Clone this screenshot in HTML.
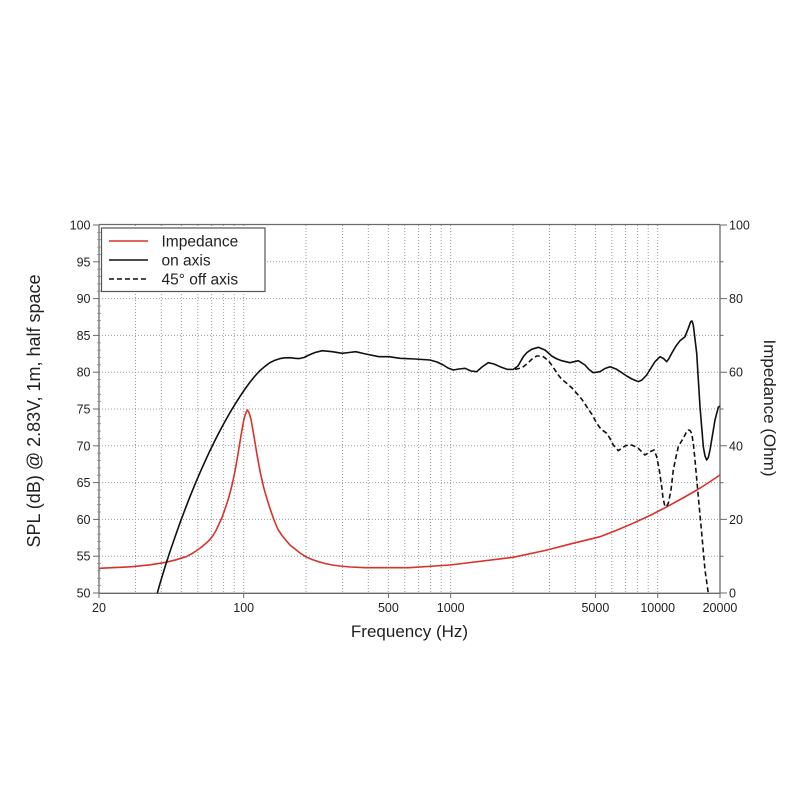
<!DOCTYPE html>
<html><head><meta charset="utf-8"><style>
html,body{margin:0;padding:0;background:#fff;}
svg{display:block;}
text{font-family:"Liberation Sans",Arial,sans-serif;fill:#222;}
</style></head><body>
<svg width="800" height="800" viewBox="0 0 800 800" xmlns="http://www.w3.org/2000/svg">
<rect width="800" height="800" fill="#fff"/>
<!-- vertical grid -->
<g stroke="#9a9a9a" stroke-width="1" stroke-dasharray="1 2" fill="none">
<line x1="135.5" y1="225" x2="135.5" y2="593"/>
<line x1="161.3" y1="225" x2="161.3" y2="593"/>
<line x1="181.4" y1="225" x2="181.4" y2="593"/>
<line x1="197.8" y1="225" x2="197.8" y2="593"/>
<line x1="211.6" y1="225" x2="211.6" y2="593"/>
<line x1="223.6" y1="225" x2="223.6" y2="593"/>
<line x1="234.2" y1="225" x2="234.2" y2="593"/>
<line x1="243.7" y1="225" x2="243.7" y2="593"/>
<line x1="306" y1="225" x2="306" y2="593"/>
<line x1="342.5" y1="225" x2="342.5" y2="593"/>
<line x1="368.3" y1="225" x2="368.3" y2="593"/>
<line x1="388.4" y1="225" x2="388.4" y2="593"/>
<line x1="404.8" y1="225" x2="404.8" y2="593"/>
<line x1="418.6" y1="225" x2="418.6" y2="593"/>
<line x1="430.6" y1="225" x2="430.6" y2="593"/>
<line x1="441.2" y1="225" x2="441.2" y2="593"/>
<line x1="450.7" y1="225" x2="450.7" y2="593"/>
<line x1="513" y1="225" x2="513" y2="593"/>
<line x1="549.5" y1="225" x2="549.5" y2="593"/>
<line x1="575.3" y1="225" x2="575.3" y2="593"/>
<line x1="595.4" y1="225" x2="595.4" y2="593"/>
<line x1="611.8" y1="225" x2="611.8" y2="593"/>
<line x1="625.6" y1="225" x2="625.6" y2="593"/>
<line x1="637.6" y1="225" x2="637.6" y2="593"/>
<line x1="648.2" y1="225" x2="648.2" y2="593"/>
<line x1="657.7" y1="225" x2="657.7" y2="593"/>
</g>
<!-- horizontal grid -->
<g stroke="#9a9a9a" stroke-width="1" stroke-dasharray="1 2" fill="none">
<line x1="99" y1="556.2" x2="720" y2="556.2"/>
<line x1="99" y1="519.4" x2="720" y2="519.4"/>
<line x1="99" y1="482.6" x2="720" y2="482.6"/>
<line x1="99" y1="445.8" x2="720" y2="445.8"/>
<line x1="99" y1="409" x2="720" y2="409"/>
<line x1="99" y1="372.2" x2="720" y2="372.2"/>
<line x1="99" y1="335.4" x2="720" y2="335.4"/>
<line x1="99" y1="298.6" x2="720" y2="298.6"/>
<line x1="99" y1="261.8" x2="720" y2="261.8"/>
</g>
<!-- axes frame -->
<g stroke="#6a6a6a" stroke-width="1.3" fill="none">
<line x1="99" y1="224.5" x2="720" y2="224.5"/>
<line x1="99" y1="224.5" x2="99" y2="593.3"/>
<line x1="720" y1="224.5" x2="720" y2="593.3"/>
<line x1="99" y1="593.3" x2="720" y2="593.3"/>
</g>
<!-- left ticks -->
<g stroke="#6a6a6a" stroke-width="1">
<line x1="93" y1="593" x2="99" y2="593"/><line x1="93" y1="556.2" x2="99" y2="556.2"/><line x1="93" y1="519.4" x2="99" y2="519.4"/><line x1="93" y1="482.6" x2="99" y2="482.6"/><line x1="93" y1="445.8" x2="99" y2="445.8"/><line x1="93" y1="409" x2="99" y2="409"/><line x1="93" y1="372.2" x2="99" y2="372.2"/><line x1="93" y1="335.4" x2="99" y2="335.4"/><line x1="93" y1="298.6" x2="99" y2="298.6"/><line x1="93" y1="261.8" x2="99" y2="261.8"/><line x1="93" y1="225" x2="99" y2="225"/>
</g>
<path stroke="#8a8a8a" stroke-width="0.8" d="M97 585.6h4M97 578.3h4M97 570.9h4M97 563.6h4M97 548.8h4M97 541.5h4M97 534.1h4M97 526.8h4M97 512h4M97 504.7h4M97 497.3h4M97 490h4M97 475.2h4M97 467.9h4M97 460.5h4M97 453.2h4M97 438.4h4M97 431.1h4M97 423.7h4M97 416.4h4M97 401.6h4M97 394.3h4M97 386.9h4M97 379.6h4M97 364.8h4M97 357.5h4M97 350.1h4M97 342.8h4M97 328h4M97 320.7h4M97 313.3h4M97 306h4M97 291.2h4M97 283.9h4M97 276.5h4M97 269.2h4M97 254.4h4M97 247.1h4M97 239.7h4M97 232.4h4"/>
<!-- right ticks -->
<path stroke="#6a6a6a" stroke-width="1" d="M720 593h7M720 519.4h7M720 445.8h7M720 372.2h7M720 298.6h7M720 225h7M720 556.2h3.5M720 482.6h3.5M720 409h3.5M720 335.4h3.5M720 261.8h3.5"/>
<!-- bottom ticks -->
<path stroke="#6a6a6a" stroke-width="1" d="M99 593v5M243.7 593v5M388.4 593v5M450.7 593v5M595.4 593v5M657.7 593v5M720 593v5"/>

<!-- curves -->
<polyline fill="none" stroke="#d8322a" stroke-width="1.6" stroke-linejoin="round" points="99,568.3 132,566.7 150,564.8 166,562.3 176,559.8 186,556.7 191,554.2 196,551 201,547.5 206,543.3 210,539.5 213,535.5 216,530.5 219,524 222,517.5 225,509 228,500 230,493 232.5,483 235,471 238,454 241,435.5 244,418.7 246,412.5 247.5,410 249,412.5 251,419.3 254,436.4 257,454.7 260,471.2 264,488.7 267,499 270,508.5 274,520 278,529.5 282,535.5 285.7,540 290,545 295,549 300,553 305.7,556.7 312,559.5 318,561.5 325,563.5 332.3,565 340,566 350,567 365.7,567.7 409,567.7 450,565 513,557.3 545,550.5 573,543.3 600,536.7 616,530.5 633,523.3 650,515.5 667,506.7 682,498.5 697,490 708,483 720,475"/>

<polyline fill="none" stroke="#111" stroke-width="1.6" stroke-linejoin="round" points="157.3,593 160,583.5 165,567 170,551.5 175,537 180,522.8 185,509.5 190,496.6 195,484.3 200,472.6 205,461.4 210,450.6 215,440.4 220,430.6 225,421.4 230,412.6 235,404.3 240,396.4 245,389 250,382.1 255,376 260,370.6 265,366.3 270,362.6 275,360.2 280,358.6 285,357.8 290,357.7 295,358.3 299,358.6 304,357.5 309,355 315,352.5 322.3,350.7 332.3,351.7 342.3,353.3 349,352.5 355.7,351.7 365.7,354 379,356.7 389,356.7 400,358.3 415,359 430,360 437,362 443.3,365 448,368 453.3,370 459,369 465,368.3 471,371 476.7,371.7 482,367 488.3,362.7 494,364 500,366.7 507,369.3 513,369.5 518,366 523.3,356.7 527,352.5 531.7,349.3 538.3,347.3 545,350 551.7,356 556,358.5 561.7,360.7 570,362.7 578.3,360.7 585,365 589,369.5 593.3,372.7 600,371.7 605,368.5 610,366.7 616.7,369.3 626.7,376 632,379 638.3,381.7 642,380 646.7,375 651,368 655,361.7 660,356.7 663.5,358.5 666.7,361.7 669,358.5 671.7,353.3 676,346 680,340.7 685,336.7 688.3,328.3 690.7,321.7 692,321 693.3,325 696.7,353.3 700,406.7 703.3,446.7 705,456 706.7,460 708.3,457.5 710,450 712.5,435 715,420 718.3,407.3 720,406"/>

<polyline fill="none" stroke="#111" stroke-width="1.6" stroke-dasharray="5 3" stroke-linejoin="round" points="515,369.3 519,368.5 523.3,366.7 527.5,363.5 531.7,359.3 536.7,356 540,356 543.3,356.7 547,359.5 550,362.7 554,368.5 558.3,375 562,379.5 566.7,383.3 572,388 576.7,393.3 582,399.5 586.7,406.7 592,414.5 596.7,423.3 601,429 606.7,433.3 610,438.5 613.3,445 618.3,450.7 622,448 625,446 628,445 631.7,445 635,446.5 638.3,448.3 642,452 645,455 648,453 650,451.7 654,450 656.7,456.7 659.3,470 661.7,486.7 663,498 665,506.7 666.7,506 668.3,503.3 671,490 673.3,470 676,457 678.3,446.7 681,442 683.3,438.3 686,433 688.3,430 690,430.5 691.7,433.3 693.5,445 695,460 698.3,496.7 701.7,533.3 705,570 708.3,593.3"/>

<!-- legend -->
<rect x="101.5" y="228" width="163.5" height="63.5" fill="#fff" stroke="#555" stroke-width="1.2"/>
<line x1="109" y1="241" x2="148" y2="241" stroke="#d8322a" stroke-width="1.6"/>
<line x1="109" y1="260" x2="148" y2="260" stroke="#111" stroke-width="1.6"/>
<line x1="109" y1="279" x2="148" y2="279" stroke="#111" stroke-width="1.6" stroke-dasharray="5 3"/>
<text x="161.5" y="246.5" font-size="15.5">Impedance</text>
<text x="161.5" y="265.5" font-size="15.5">on axis</text>
<text x="161.5" y="284.5" font-size="15.5">45° off axis</text>

<!-- left tick labels -->
<g font-size="12.5" text-anchor="end">
<text x="90.5" y="597.5">50</text>
<text x="90.5" y="560.7">55</text>
<text x="90.5" y="523.9">60</text>
<text x="90.5" y="487.1">65</text>
<text x="90.5" y="450.3">70</text>
<text x="90.5" y="413.5">75</text>
<text x="90.5" y="376.7">80</text>
<text x="90.5" y="339.9">85</text>
<text x="90.5" y="303.1">90</text>
<text x="90.5" y="266.3">95</text>
<text x="90.5" y="229.5">100</text>
</g>
<!-- right tick labels -->
<g font-size="12.5" text-anchor="start">
<text x="729" y="597.5">0</text>
<text x="729" y="523.9">20</text>
<text x="729" y="450.3">40</text>
<text x="729" y="376.7">60</text>
<text x="729" y="303.1">80</text>
<text x="729" y="229.5">100</text>
</g>
<!-- bottom tick labels -->
<g font-size="12.5" text-anchor="middle">
<text x="99" y="612">20</text>
<text x="243.7" y="612">100</text>
<text x="388.4" y="612">500</text>
<text x="450.7" y="612">1000</text>
<text x="595.4" y="612">5000</text>
<text x="657.7" y="612">10000</text>
<text x="720" y="612">20000</text>
</g>
<text x="409.5" y="637" font-size="17" text-anchor="middle">Frequency (Hz)</text>
<text transform="translate(40,411) rotate(-90)" font-size="18" text-anchor="middle">SPL (dB) @ 2.83V, 1m, half space</text>
<text transform="translate(764,408) rotate(90)" font-size="17" text-anchor="middle">Impedance (Ohm)</text>
</svg>
</body></html>
